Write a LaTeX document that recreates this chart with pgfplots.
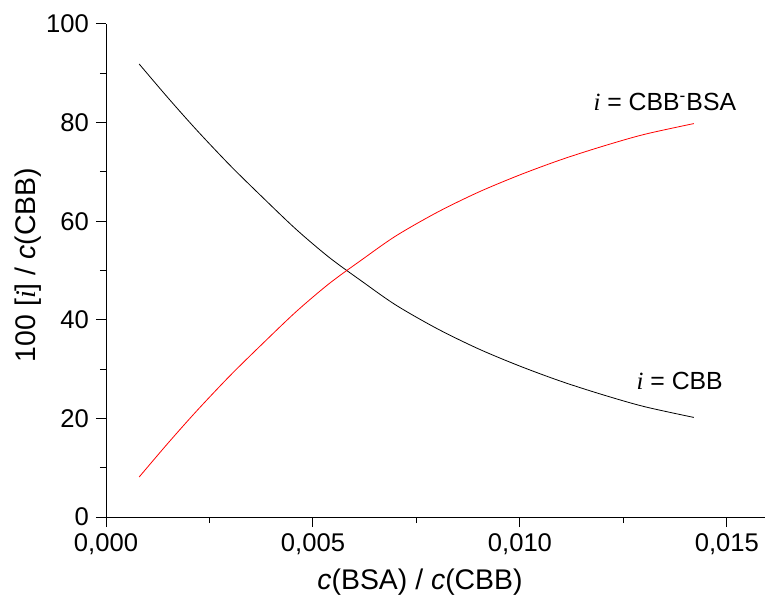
\documentclass[border=0pt]{standalone}
\usepackage{pgfplots}
\pgfplotsset{compat=1.18}
\usepackage{fontspec}
\setmainfont{Liberation Sans}
\newfontfamily\tnr{Liberation Serif}
\newcommand{\ii}{{\tnr\itshape i}}
\begin{document}
\begin{tikzpicture}
\begin{axis}[
  scale only axis,
  width=329.5pt, height=246.5pt,
  xmin=0, xmax=0.01592, ymin=0, ymax=100,
  axis lines=left, axis line style={-, line width=0.5pt},
  tick align=outside,
  major tick length=5pt, minor tick length=3pt,
  tick style={line width=0.5pt, black},
  xtick={0,0.005,0.010,0.015},
  ytick={0,20,40,60,80,100},
  minor x tick num=1, minor y tick num=1,
  scaled x ticks=false,
  xticklabel style={/pgf/number format/.cd, fixed, fixed zerofill, precision=3, use comma, assume math mode=true},
  yticklabel style={/pgf/number format/assume math mode=true},
  ticklabel style={font=\fontsize{12.8}{15}\selectfont},
  label style={font=\fontsize{14.2}{17}\selectfont},
  xlabel={\textit{c}(BSA) / \textit{c}(CBB)},
  xlabel style={at={(axis description cs:0.4765,0)}, anchor=center, yshift=-32.5pt},
  ylabel={100 [\ii] / \textit{c}(CBB)},
  ylabel style={at={(axis description cs:-0.1184,0.511)}, anchor=center},
  clip=false,
]
\addplot[black, line width=0.4pt, smooth] coordinates {
(0.0008,91.9) (0.0015,85.0) (0.0022,78.4) (0.0030,71.3) (0.0038,64.7)
(0.0046,58.3) (0.0054,52.6) (0.0062,47.7) (0.0070,43.0) (0.0080,38.2)
(0.0090,34.1) (0.0100,30.6) (0.0110,27.5) (0.0120,24.8) (0.0130,22.4) (0.0142,20.2)
};
\addplot[red, line width=0.4pt, smooth] coordinates {
(0.0008,8.1) (0.0015,15.0) (0.0022,21.6) (0.0030,28.7) (0.0038,35.3)
(0.0046,41.7) (0.0054,47.4) (0.0062,52.3) (0.0070,57.0) (0.0080,61.8)
(0.0090,65.9) (0.0100,69.4) (0.0110,72.5) (0.0120,75.2) (0.0130,77.6) (0.0142,79.8)
};
\node[font=\fontsize{12.4}{15}\selectfont] at (axis cs:0.0135,84.2) {\ii{} = CBB\textsuperscript{-}BSA};
\node[font=\fontsize{12.4}{15}\selectfont] at (axis cs:0.01386,27.6) {\ii{} = CBB};
\end{axis}
\pgfresetboundingbox
\path ([xshift=-53pt, yshift=-41.5pt] current axis.south west) rectangle ([yshift=12pt] current axis.north east);
\end{tikzpicture}
\end{document}
